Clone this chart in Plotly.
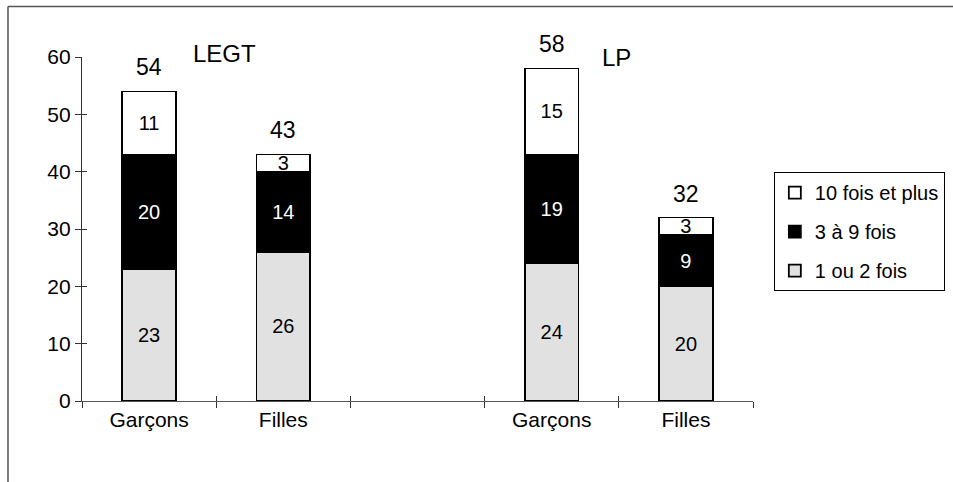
import plotly.graph_objects as go

# categories (a blank slot separates LEGT from LP)
cat_ids = ["LEGT_G", "LEGT_F", "gap", "LP_G", "LP_F"]
cat_labels = ["Garçons", "Filles", "", "Garçons", "Filles"]

# series values, bottom to top
un_ou_deux = [23, 26, None, 24, 20]
trois_a_neuf = [20, 14, None, 19, 9]
dix_et_plus = [11, 3, None, 15, 3]

group_names = ["LEGT", "LP"]

FONT = "Liberation Sans, Arial, sans-serif"

series = [
    ("1 ou 2 fois", un_ou_deux, "#e1e1e1", "black", 3),
    ("3 à 9 fois", trois_a_neuf, "black", "white", 2),
    ("10 fois et plus", dix_et_plus, "white", "black", 1),
]

fig = go.Figure()
for name, vals, color, txtcolor, rank in series:
    fig.add_trace(go.Bar(
        x=cat_ids, y=vals, name=name, legendgroup=name, legendrank=rank,
        width=0.40,
        marker=dict(color=color, line=dict(color="black", width=1.8)),
        text=[("" if v is None else str(v)) for v in vals],
        textposition="inside", insidetextanchor="middle", textangle=0,
        constraintext="none",
        insidetextfont=dict(family=FONT, size=20, color=txtcolor),
        hoverinfo="skip",
    ))

# empty trace so the overlay axes (inner tick halves) get drawn
fig.add_trace(go.Scatter(x=[None], y=[None], xaxis="x2", yaxis="y2",
                         showlegend=False, hoverinfo="skip"))

# totals above bars
for cid, a, b, c in zip(cat_ids, un_ou_deux, trois_a_neuf, dix_et_plus):
    if a is None:
        continue
    total = a + b + c
    fig.add_annotation(x=cid, y=total, text=str(total), showarrow=False,
                       yanchor="bottom", yshift=9,
                       font=dict(family=FONT, size=23, color="black"))

# group labels
fig.add_annotation(x=0.213, y=1.009, xref="paper", yref="paper", text=group_names[0],
                   showarrow=False, xanchor="center", yanchor="middle",
                   font=dict(family=FONT, size=24, color="black"))
fig.add_annotation(x=0.796, y=0.998, xref="paper", yref="paper", text=group_names[1],
                   showarrow=False, xanchor="center", yanchor="middle",
                   font=dict(family=FONT, size=24, color="black"))

# outer frame (left and top edges only)
fig.add_shape(type="line", xref="paper", yref="paper", x0=-0.1103, x1=-0.1103, y0=-0.3, y1=1.147,
              line=dict(color="#555555", width=1.5))
fig.add_shape(type="line", xref="paper", yref="paper", x0=-0.1103, x1=1.3, y0=1.147, y1=1.147,
              line=dict(color="#555555", width=1.5))

fig.update_layout(
    width=953, height=482, autosize=False,
    margin=dict(l=82, r=200, t=57, b=81, autoexpand=False),
    barmode="stack",
    plot_bgcolor="white", paper_bgcolor="white",
    font=dict(family=FONT, size=20, color="black"),
    showlegend=True,
    legend=dict(
        xref="container", yref="container",
        x=0.812, y=0.643, xanchor="left", yanchor="top",
        bordercolor="black", borderwidth=1,
        traceorder="grouped", tracegroupgap=10,
        font=dict(family=FONT, size=20, color="black"),
        itemwidth=30,
    ),
    xaxis=dict(
        type="category", categoryorder="array", categoryarray=cat_ids,
        tickvals=cat_ids, ticktext=cat_labels, range=[-0.5, 4.5],
        tickson="boundaries", ticks="outside", ticklen=6, tickcolor="#333333",
        showline=True, linecolor="#555555", linewidth=1.2,
        showgrid=False, zeroline=False,
        tickfont=dict(family=FONT, size=21, color="black"),
    ),
    yaxis=dict(
        range=[0, 60], dtick=10, ticks="outside", ticklen=6, tickcolor="#333333",
        showline=True, linecolor="#333333", linewidth=1.2,
        showgrid=False, zeroline=False,
        tickfont=dict(family=FONT, size=21, color="black"),
    ),
    # inner halves of the crossing tick marks
    xaxis2=dict(overlaying="x", range=[-0.5, 4.5], tick0=-0.5, dtick=1,
                ticks="inside", ticklen=5, tickcolor="#333333", showticklabels=False,
                showline=False, showgrid=False, zeroline=False),
    yaxis2=dict(overlaying="y", range=[0, 60], dtick=10,
                ticks="inside", ticklen=5, tickcolor="#333333", showticklabels=False,
                showline=False, showgrid=False, zeroline=False),
)

fig.write_html("out.html", config={"displayModeBar": False},
               post_script="document.body.style.margin='0';")
